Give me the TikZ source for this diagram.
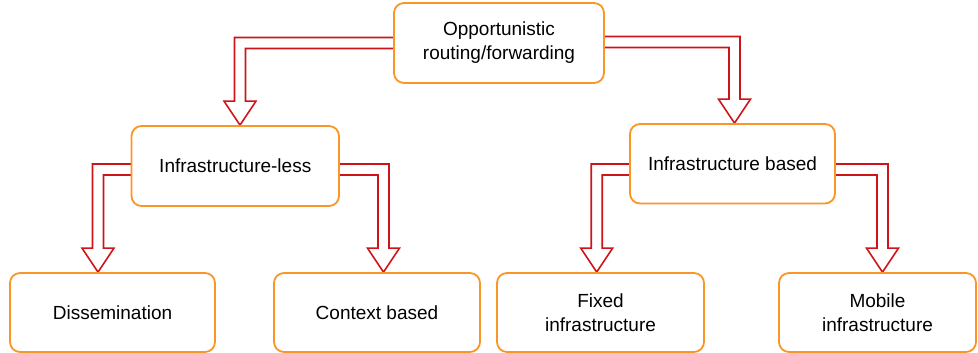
\documentclass[tikz,border=0pt]{standalone}
\usepackage{fontspec}
\setmainfont{Liberation Sans}
\usetikzlibrary{calc,backgrounds}
\definecolor{boxorange}{RGB}{250,150,40}
\definecolor{arrowred}{RGB}{205,20,25}
\tikzset{
  box/.style={draw=boxorange, line width=1.8pt, rounded corners=10pt, fill=white,
    align=center, inner sep=0pt, font=\fontsize{19}{24}\selectfont},
  hollow/.style={draw=arrowred, line width=1.6pt, line join=miter, fill=white},
}
% Hollow elbow arrow: #1 start on the source box, #2 point fixing the shaft x,
% #3 point the tip touches, #4 = 1 when turning left, -1 when turning right
\newcommand\hollowarrow[4]{%
  \draw[hollow] let \p1=(#1), \p2=(#2), \p3=(#3) in
    (\x1,{\y1+5.5pt}) -- ({\x2-(#4)*5.5pt},{\y1+5.5pt})
    -- ({\x2-(#4)*5.5pt},{\y3+24pt}) -- ({\x2-(#4)*16pt},{\y3+24pt})
    -- (\x2,\y3)
    -- ({\x2+(#4)*16pt},{\y3+24pt}) -- ({\x2+(#4)*5.5pt},{\y3+24pt})
    -- ({\x2+(#4)*5.5pt},{\y1-5.5pt}) -- (\x1,{\y1-5.5pt}) -- cycle;
}
\begin{document}
\begin{tikzpicture}[x=1pt,y=-1pt]
\useasboundingbox (0,0) rectangle (978,353);

\node[box, minimum width=210, minimum height=80] (top) at (499,43)
  {Opportunistic\\routing/forwarding};
\node[box, minimum width=207.5, minimum height=80] (il) at (235.25,166)
  {Infrastructure-less};
\node[box, minimum width=205, minimum height=79.5] (ib) at (732.5,163.75)
  {Infrastructure based};
\node[box, minimum width=205, minimum height=79] (dis) at (112.5,312.5)
  {Dissemination};
\node[box, minimum width=206, minimum height=79] (ctx) at (377,312.5)
  {Context based};
\node[box, minimum width=207, minimum height=79] (fix) at (600.5,312.5)
  {Fixed\\infrastructure};
\node[box, minimum width=197, minimum height=79] (mob) at (877.5,312.5)
  {Mobile\\infrastructure};

\begin{pgfonlayer}{background}
  \hollowarrow{$(top.west)+(3,0)$}{240,0}{il.north}{1}
  \hollowarrow{$(top.east)+(-3,-1)$}{734.5,0}{ib.north}{-1}
  \hollowarrow{$(il.west)+(3,3.5)$}{98,0}{dis.north}{1}
  \hollowarrow{$(il.east)+(-3,3.5)$}{383.5,0}{ctx.north}{-1}
  \hollowarrow{$(ib.west)+(3,5.75)$}{596.7,0}{fix.north}{1}
  \hollowarrow{$(ib.east)+(-3,5.75)$}{882.5,0}{mob.north}{-1}
\end{pgfonlayer}
\end{tikzpicture}
\end{document}
